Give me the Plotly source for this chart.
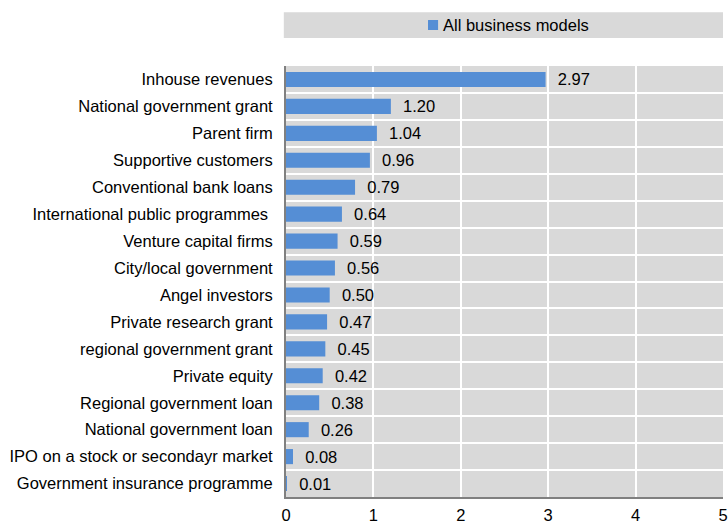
import plotly.graph_objects as go

# Funding sources and their mean scores (all business models)
sources = [
    "Inhouse revenues",
    "National government grant",
    "Parent firm",
    "Supportive customers",
    "Conventional bank loans",
    "International public programmes ",
    "Venture capital firms",
    "City/local government",
    "Angel investors",
    "Private research grant",
    "regional government grant",
    "Private equity",
    "Regional government loan",
    "National government loan",
    "IPO on a stock or secondayr market",
    "Government insurance programme",
]
scores = [2.97, 1.20, 1.04, 0.96, 0.79, 0.64, 0.59, 0.56, 0.50, 0.47,
          0.45, 0.42, 0.38, 0.26, 0.08, 0.01]
x_ticks = [0, 1, 2, 3, 4, 5]
series_name = "All business models"

BAR = "#558ED5"
PANEL = "#D9D9D9"
FONT = "Liberation Sans, Arial, sans-serif"
FS = 16.5

fig = go.Figure()
fig.add_trace(go.Bar(
    x=scores,
    y=sources,
    orientation="h",
    name=series_name,
    showlegend=False,
    marker=dict(color=BAR, line=dict(width=0)),
    text=[f"{v:.2f}" for v in scores],
    texttemplate="  %{text}",
    textposition="outside",
    constraintext="none",
    cliponaxis=False,
    textfont=dict(family=FONT, size=FS, color="#000000"),
))

# Legend band: grey strip, colour key and series name
fig.add_shape(type="rect", xref="paper", yref="paper",
              x0=-0.005, x1=1.0, y0=1.065, y1=1.125,
              fillcolor=PANEL, line=dict(width=0), layer="below")
fig.add_shape(type="rect", xref="paper", yref="paper",
              x0=0.325, x1=0.348, y0=1.0835, y1=1.1067,
              fillcolor=BAR, line=dict(width=0))
fig.add_annotation(xref="paper", yref="paper", x=0.3547, y=1.095,
                   xanchor="left", yanchor="middle", showarrow=False,
                   text=series_name,
                   font=dict(family=FONT, size=FS, color="#000000"))

fig.update_layout(
    width=728, height=522,
    margin=dict(l=286, r=5, t=66, b=25),
    paper_bgcolor="white",
    plot_bgcolor=PANEL,
    font=dict(family=FONT, size=FS, color="#000000"),
    bargap=0.44,
    showlegend=False,
    xaxis=dict(range=[0, 5], tickvals=x_ticks, ticktext=[str(t) for t in x_ticks],
               automargin=False,
               showgrid=True, gridcolor="white", gridwidth=2,
               zeroline=False, showline=True, linecolor="#808080", linewidth=2,
               ticks="", ticklabelstandoff=2,
               tickfont=dict(family=FONT, size=FS, color="#000000")),
    yaxis=dict(type="category", autorange="reversed", automargin=False,
               tickson="boundaries", showgrid=True, gridcolor="white", gridwidth=2,
               showline=True, linecolor="#808080", linewidth=2,
               ticks="", ticklabelstandoff=8,
               tickfont=dict(family=FONT, size=FS, color="#000000")),
)

fig.write_html("out.html")
